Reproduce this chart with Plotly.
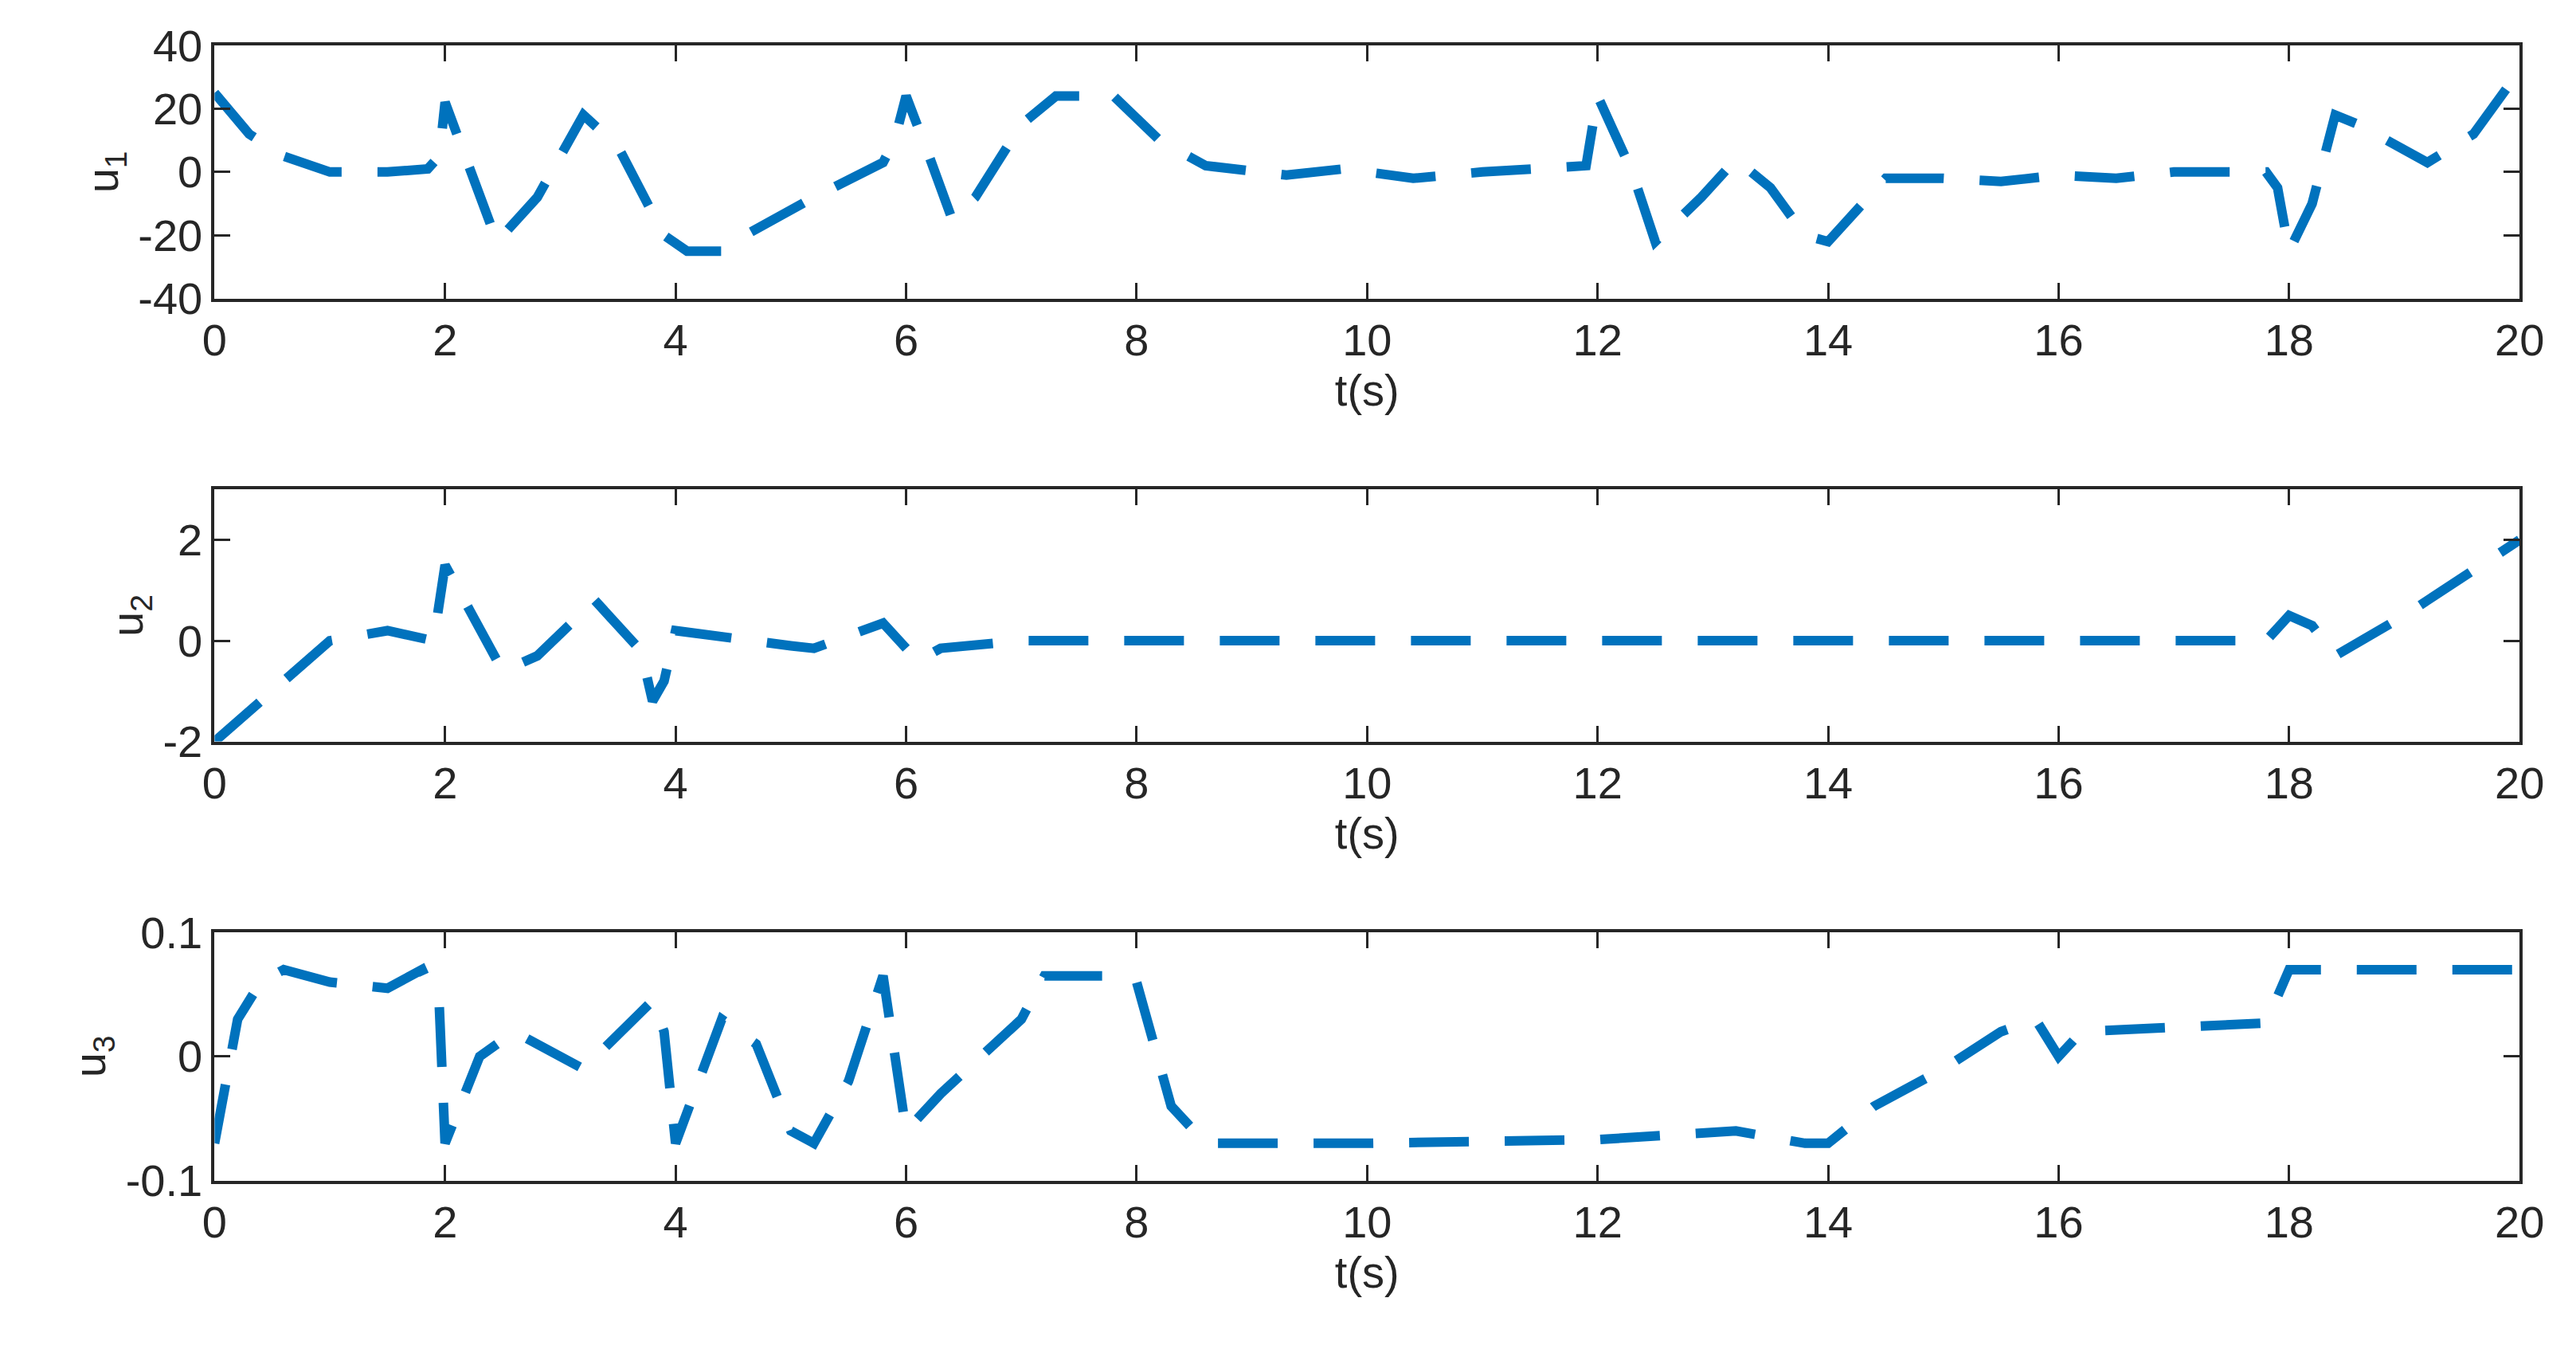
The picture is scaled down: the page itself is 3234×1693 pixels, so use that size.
import plotly.graph_objs as go
from plotly.subplots import make_subplots

t1 = [0, 0.3, 0.6, 1.0, 1.5, 1.85, 1.95, 2.0, 2.45, 2.8, 3.2, 3.5, 3.9, 4.1, 4.4, 4.6, 5.2, 5.8, 5.9, 6.0, 6.2, 6.4, 6.6,
      7.0, 7.3, 7.8, 8.2, 8.6, 9.3, 9.8, 10.0, 10.4, 11.0, 11.7, 11.9, 12.0, 12.3, 12.5, 12.9, 13.2, 13.5, 13.8, 14.0,
      14.3, 14.5, 15.0, 15.5, 16.0, 16.5, 17.0, 17.8, 17.9, 18.0, 18.2, 18.4, 18.6, 19.2, 19.6, 19.9, 20.0]
u1 = [25, 12, 5, 0, 0, 1, 5, 22, -22, -8, 18, 8, -20, -25, -25, -20, -8, 3, 10, 24, 5, -15, -8,
      15, 24, 24, 10, 2, -1, 1, 0, -2, 0, 1, 2, 24, 0, -22, -8, 4, -5, -20, -22,
      -10, -2, -2, -3, -1, -2, 0, 0, -5, -25, -10, 18, 15, 3, 12, 27, 28]

t2 = [0, 1.0, 1.5, 1.9, 2.0, 2.5, 2.8, 3.3, 3.7, 3.8, 3.9, 4.0, 5.0, 5.2, 5.8, 6.1, 6.3, 7.0, 8.0, 17.8, 18.0, 18.2,
      18.4, 19.0, 20.0]
u2 = [-2, 0, 0.2, 0, 1.5, -0.6, -0.3, 0.8, -0.2, -1.2, -0.8, 0.2, -0.1, -0.15, 0.35, -0.4, -0.15, 0, 0, 0, 0.5, 0.3,
      -0.3, 0.5, 2]

t3 = [0, 0.2, 0.4, 0.6, 1.0, 1.5, 1.8, 1.95, 2.0, 2.3, 2.6, 3.2, 3.8, 3.9, 4.0, 4.4, 4.7, 5.0, 5.2, 5.5, 5.8, 5.9,
      6.0, 6.3, 7.0, 7.2, 7.8, 8.0, 8.3, 8.6, 9.8, 10.0, 12.0, 13.2, 13.8, 14.0, 14.4, 15.0, 15.5, 15.8, 16.0, 16.2,
      17.8, 18.0, 20.0]
u3 = [-0.07, 0.03, 0.06, 0.07, 0.06, 0.055, 0.07, 0.04, -0.07, 0.0, 0.02, -0.01, 0.045, 0.02, -0.07, 0.03, 0.01,
      -0.06, -0.07, -0.02, 0.065, 0.0, -0.06, -0.03, 0.03, 0.065, 0.065, 0.06, -0.04, -0.07, -0.07, -0.07, -0.067,
      -0.06, -0.07, -0.07, -0.04, -0.01, 0.02, 0.03, 0.0, 0.02, 0.027, 0.07, 0.07]

series = [(t1, u1, 'u<sub>1</sub>', [-40, 40], [-40, -20, 0, 20, 40], ['-40', '-20', '0', '20', '40']),
          (t2, u2, 'u<sub>2</sub>', [-2, 3], [-2, 0, 2], ['-2', '0', '2']),
          (t3, u3, 'u<sub>3</sub>', [-0.1, 0.1], [-0.1, 0, 0.1], ['-0.1', '0', '0.1'])]

font = dict(family='Liberation Sans, Arial', size=56, color='#262626')
fig = make_subplots(rows=3, cols=1)
domains = [[0.794, 0.989], [0.453, 0.647], [0.115, 0.306]]
for i, (t, u, name, yr, yt, ytt) in enumerate(series, start=1):
    fig.add_trace(go.Scatter(x=t, y=u, mode='lines', showlegend=False,
                             line=dict(color='#0072BD', width=12, dash='75px,45px')), row=i, col=1)
    ax = dict(showline=True, mirror='ticks', linecolor='#262626', linewidth=4, ticks='inside',
              ticklen=20, tickwidth=3, tickcolor='#262626', showgrid=False, zeroline=False,
              tickfont=font)
    fig.update_xaxes(ax, range=[0, 20], dtick=2, domain=[0.077, 0.985],
                     title=dict(text='t(s)', font=font, standoff=8), row=i, col=1)
    fig.update_yaxes(ax, range=yr, tickvals=yt, ticktext=ytt, domain=domains[i - 1],
                     title=dict(text=name, font=font, standoff=8), row=i, col=1)

fig.update_layout(width=3234, height=1693, plot_bgcolor='white', paper_bgcolor='white',
                  margin=dict(l=0, r=0, t=0, b=0), font=font)
fig.write_html("out.html")
